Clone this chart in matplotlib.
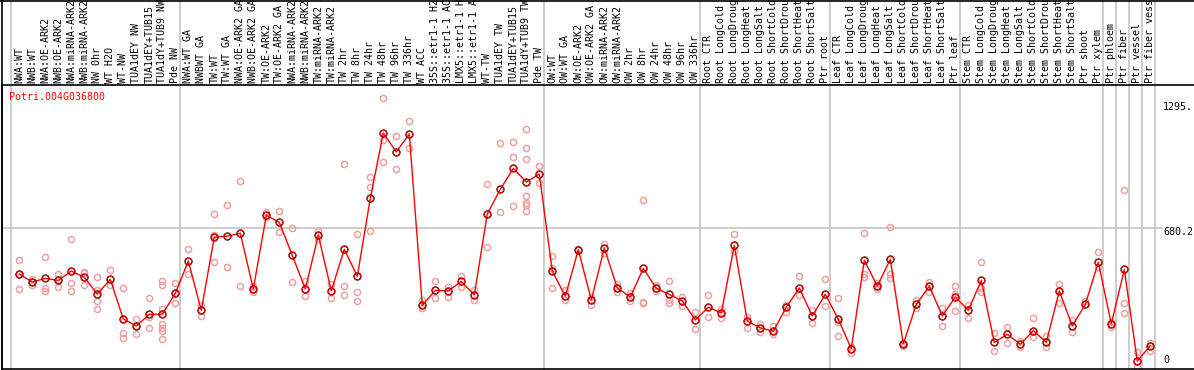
import matplotlib
matplotlib.use("Agg")
import matplotlib.pyplot as plt
from matplotlib.lines import Line2D

gene = "Potri.004G036800"

labels = [
    "NWA:WT", "NWB:WT", "NWA:OE-ARK2", "NWB:OE-ARK2", "NWA:miRNA-ARK2", "NWB:miRNA-ARK2",
    "NW 0hr", "WT H2O", "WT-NW", "TUA1dEY NW", "TUA1dEY+TUB15", "TUA1dY+TUB9 NW", "Pde NW",
    "NWA:WT GA", "NWBWT GA", "TW:WT", "TW:WT GA", "NWA:OE-ARK2 GA", "NWB:OE-ARK2 GA",
    "TW:OE-ARK2", "TW:OE-ARK2 GA", "NWA:miRNA-ARK2", "NWB:miRNA-ARK2", "TW:miRNA-ARK2",
    "TW:miRNA-ARK2", "TW 2hr", "TW 8hr", "TW 24hr", "TW 48hr", "TW 96hr", "TW 336hr",
    "WT ACC", "35S::etr1-1 H2", "35S::etr1-1 AC", "LMX5::etr1-1 H", "LMX5::etr1-1 A",
    "WT-TW", "TUA1dEY TW", "TUA1dEY+TUB15", "TUA1dY+TUB9 TW", "Pde TW",
    "OW:WT", "OW:WT GA", "OW:OE-ARK2", "OW:OE-ARK2 GA", "OW:miRNA-ARK2", "OW:miRNA-ARK2",
    "OW 2hr", "OW 8hr", "OW 24hr", "OW 48hr", "OW 96hr", "OW 336hr",
    "Root CTR", "Root LongCold", "Root LongDroug", "Root LongHeat", "Root LongSalt",
    "Root ShortCold", "Root ShortDrou", "Root ShortHeat", "Root ShortSalt", "Ptr root",
    "Leaf CTR", "Leaf LongCold", "Leaf LongDroug", "Leaf LongHeat", "Leaf LongSalt",
    "Leaf ShortCold", "Leaf ShortDrou", "Leaf ShortHeat", "Leaf ShortSalt", "Ptr leaf",
    "Stem CTR", "Stem LongCold", "Stem LongDroug", "Stem LongHeat", "Stem LongSalt",
    "Stem ShortCold", "Stem ShortDrou", "Stem ShortHeat", "Stem ShortSalt", "Ptr shoot",
    "Ptr xylem", "Ptr phloem", "Ptr fiber", "Ptr vessel", "Ptr fiber vess",
]

means = [
    455, 416, 434, 424, 470, 439, 357, 429, 234, 200, 257, 257, 360,
    519, 277, 637, 642, 656, 382, 744, 710, 547, 382, 647, 372, 577, 444, 828,
    1149, 1056, 1144, 301, 375, 372, 419, 352, 751, 872, 975, 908, 947,
    470, 346, 575, 328, 582, 387, 342, 483, 385, 355, 323, 229,
    292, 264, 596, 224, 190, 174, 292, 387, 249, 355,
    233, 88, 523, 396, 528, 111, 306, 396, 249, 342,
    277, 424, 119, 159, 110, 177, 119, 372, 200, 306, 513,
    210, 478, 27, 103,
]

replicates = [
    [523, 455, 382], [433, 416, 403], [537, 387, 370], [455, 424, 390], [626, 411, 370],
    [467, 459, 400], [439, 375, 321, 282], [473, 403], [385, 165, 142], [234, 200, 162],
    [336, 242, 190], [423, 403, 283, 210, 190, 173, 134], [410, 360, 313],
    [577, 455], [305, 250], [751, 649, 513], [793, 488], [911, 395], [395, 365],
    [762, 734], [764, 660], [682, 415], [423, 346], [669, 629], [406, 336],
    [997, 395, 351], [651, 365, 321], [933, 882, 665], [1320, 1116, 1006],
    [1133, 972], [1208, 1074], [326, 288], [421, 339], [392, 344], [447, 392],
    [378, 329], [897, 588], [1098, 762], [1103, 1029, 788],
    [1167, 1074, 1019, 839, 805, 793, 764], [987, 903],
    [542, 485, 387], [375, 328], [578], [342, 305], [605, 557], [406, 367],
    [362, 324], [818, 316, 313], [401, 372], [421, 326, 313], [344, 296], [269, 183],
    [352, 242], [285, 239], [652, 570], [244, 190], [211, 169], [198, 162],
    [301, 269], [444, 354], [280, 213], [431, 296],
    [337, 218, 150], [98, 67], [657, 455, 441], [411, 382], [687, 455, 436],
    [118, 103], [329, 290], [416, 367], [288, 200], [395, 357, 272],
    [305, 239], [513, 387, 365], [164, 77], [195, 118], [124, 95], [239, 144],
    [149, 98], [406, 313], [231, 169], [324], [564, 490],
    [221, 196], [869, 313, 264], [72, 0], [116, 75],
]

group_starts = [0, 13, 41, 53, 63, 73, 84, 85, 86, 87, 88]
ytick_values = [1295, 680.2, 0]
ytick_labels = ["1295.", "680.2", "0"]
grid_value = 680.2

W, H = 1194, 370
fig = plt.figure(figsize=(W / 100, H / 100), dpi=100)

# plot area in pixels
left_px, top_px, bot_px = 1.5, 85, 369
ax = fig.add_axes([left_px / W, (H - bot_px) / H, (W - left_px) / W, (bot_px - top_px) / H])
col0_px, col_step = 19.3, 13.0
ax.set_xlim((left_px - col0_px) / col_step, (W - col0_px) / col_step)
y0_px, px_per_unit = 366.6, 0.2033
ax.set_ylim((y0_px - bot_px) / px_per_unit, (y0_px - top_px) / px_per_unit)

ax.spines["right"].set_visible(False)
for s in ["left", "bottom", "top"]:
    ax.spines[s].set_color("black")
    ax.spines[s].set_linewidth(1.2)
ax.set_xticks([])
ax.set_yticks([])

n = len(labels)
xs = list(range(n))
ax_h = bot_px - top_px

# group separators (through label area too)
for g in group_starts:
    ax.axvline(g - 8 / col_step, ymin=0, ymax=bot_px / ax_h, color="#c4c4c4",
               lw=1.2, clip_on=False, zorder=0)

# horizontal grid
x_end = (1163 - col0_px) / col_step
ax.hlines(grid_value, ax.get_xlim()[0], x_end, color="#c4c4c4", lw=1.2, zorder=0)

# replicates
rx, ry = [], []
for i, reps in enumerate(replicates):
    for v in reps:
        rx.append(i)
        ry.append(v)
ax.plot(rx, ry, linestyle="none", marker="o", ms=4.4, mew=1.1, mfc="none",
        mec="#f0a0a0", zorder=2)

# means
ax.plot(xs, means, color="red", lw=1.0, zorder=3)
ax.plot(xs, means, linestyle="none", marker="o", ms=5.0, mew=1.0, mfc="none",
        mec="#400000", zorder=4)
ax.plot(xs, means, linestyle="none", marker="o", ms=4.6, mew=0.7, mfc="none",
        mec="red", zorder=5)

mono = "DejaVu Sans Mono"
# column labels
for i, lab in enumerate(labels):
    ax.text(i, 1 + 2 / ax_h, lab, rotation=90, ha="center", va="bottom",
            transform=ax.get_xaxis_transform(), fontsize=7.2, family=mono,
            color="black", clip_on=False)

# gene name
ax.text((9 - left_px) / (W - left_px), (bot_px - 97) / ax_h, gene, color="red",
        fontsize=7.2, family=mono, ha="left", va="center", transform=ax.transAxes)

# y labels on right
for v, lab in zip(ytick_values, ytick_labels):
    if v == 0:
        ax.annotate(lab, (x_end, v), xytext=(0, 2), textcoords="offset pixels",
                    ha="left", va="bottom", fontsize=7.2, family=mono)
    else:
        ax.annotate(lab, (x_end, v), xytext=(0, -4), textcoords="offset pixels",
                    ha="left", va="center", fontsize=7.2, family=mono)

# outer borders: left line full height, top line
fig.add_artist(Line2D([left_px / W, left_px / W], [0, 1], color="black", lw=1.2,
                      transform=fig.transFigure))
fig.add_artist(Line2D([0, 1], [1 - 0.5 / H, 1 - 0.5 / H], color="black", lw=1.2,
                      transform=fig.transFigure))

fig.savefig("out.png", dpi=100)
